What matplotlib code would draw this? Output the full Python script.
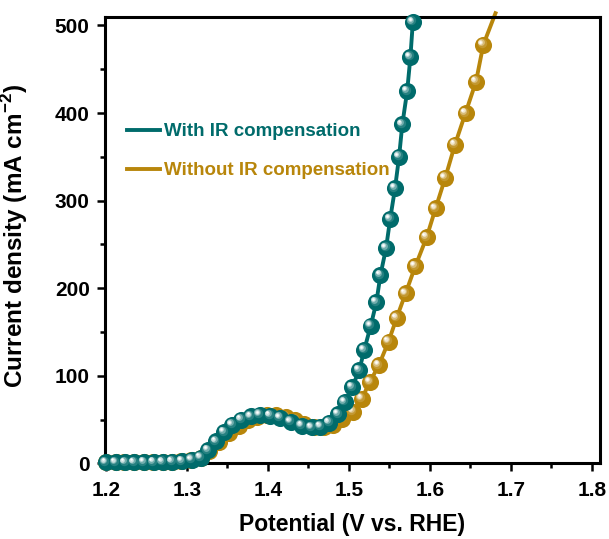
import matplotlib
matplotlib.use("Agg")
import matplotlib.pyplot as plt
import matplotlib.transforms as mtransforms
from matplotlib.ticker import MultipleLocator
from matplotlib.lines import Line2D

plt.rcParams['font.family'] = ['Liberation Sans', 'DejaVu Sans']
plt.rcParams['font.weight'] = 'bold'
plt.rcParams['mathtext.fontset'] = 'custom'
plt.rcParams['mathtext.rm'] = 'Liberation Sans:bold'
plt.rcParams['mathtext.bf'] = 'Liberation Sans:bold'

# ---- data ----
teal_x = [1.200, 1.212, 1.224, 1.235, 1.247, 1.259, 1.270, 1.282, 1.294, 1.306,
          1.317, 1.326, 1.336, 1.346, 1.356, 1.367, 1.379, 1.390, 1.403, 1.415,
          1.428, 1.442, 1.454, 1.465, 1.476, 1.487, 1.495, 1.504, 1.513, 1.519,
          1.527, 1.534, 1.539, 1.546, 1.551, 1.557, 1.562, 1.566, 1.572, 1.576,
          1.579]
teal_y = [1, 1, 1, 1, 1.2, 1.3, 1.5, 2, 2.5, 4,
          6.5, 15, 25, 35.5, 44, 50, 53.5, 55.5, 54.5, 52,
          47.5, 43, 41, 42, 46.5, 56, 70, 87, 106.5, 129.5,
          157, 184, 215, 246, 279, 314, 350, 387, 425, 464,
          504]

orange_x = [1.200, 1.212, 1.223, 1.235, 1.247, 1.258, 1.270, 1.282, 1.293, 1.305,
            1.317, 1.328, 1.340, 1.352, 1.364, 1.375, 1.387, 1.399, 1.410, 1.422,
            1.434, 1.445, 1.457, 1.469, 1.480, 1.492, 1.505, 1.516, 1.526, 1.537,
            1.549, 1.559, 1.570, 1.582, 1.596, 1.607, 1.619, 1.631, 1.644, 1.657,
            1.666, 1.681]
orange_y = [1, 1, 1, 1, 1.2, 1.3, 1.5, 2, 2.5, 4,
            6, 14, 24, 34.5, 43, 49, 52.5, 55, 55, 53,
            49.5, 45, 42, 41.5, 44, 51, 59, 74, 93, 112,
            139, 166, 194, 225, 258, 291, 326, 364, 400, 436,
            478, 514]

labels = ['With IR compensation', 'Without IR compensation']
teal = '#006b6b'
gold = '#b8860b'

x_ticks = [1.2, 1.3, 1.4, 1.5, 1.6, 1.7, 1.8]
y_ticks = [0, 100, 200, 300, 400, 500]

fig = plt.figure(figsize=(6.09, 5.39), dpi=100)
ax = fig.add_axes([0.1724, 0.1404, 0.8128, 0.8286])


def mix(c, w):
    r, g, b = matplotlib.colors.to_rgb(c)
    return (r + (1 - r) * w, g + (1 - g) * w, b + (1 - b) * w)


def ball_series(x, y, color, ms, zorder):
    ax.plot(x, y, '-', color=color, lw=2.8, zorder=zorder, clip_on=False)
    layers = [(1.0, 0.0, 0.0), (0.55, 0.15, 1.1), (0.4, 0.45, 1.7), (0.27, 0.8, 2.1), (0.14, 1.0, 2.3)]
    for scale, w, off in layers:
        tr = mtransforms.offset_copy(ax.transData, fig=fig, x=-off, y=off, units='points')
        ax.plot(x, y, 'o', ms=ms * scale, color=mix(color, w), mec='none',
                transform=tr, zorder=zorder + 0.1, clip_on=False)


ball_series(orange_x[:-1], orange_y[:-1], gold, 12.3, 3)
ax.plot(orange_x[-2:], orange_y[-2:], '-', color=gold, lw=2.8, zorder=3, clip_on=False)
ball_series(teal_x, teal_y, teal, 12.3, 5)

ax.set_xlim(1.199, 1.81)
ax.set_ylim(0, 510)
ax.set_xticks(x_ticks)
ax.set_xticklabels([f'{v:.1f}' for v in x_ticks])
ax.set_yticks(y_ticks)
ax.xaxis.set_minor_locator(MultipleLocator(0.05))
ax.yaxis.set_minor_locator(MultipleLocator(50))

for s in ax.spines.values():
    s.set_linewidth(2.2)
    s.set_zorder(4)
ax.tick_params(which='major', direction='out', length=6, width=1.8, labelsize=15, pad=5)
ax.tick_params(which='minor', direction='out', length=3.5, width=1.8)
ax.tick_params(axis='x', which='major', pad=7)
ax.tick_params(top=False, right=False)

ax.set_xlabel('Potential (V vs. RHE)', fontsize=16.5, fontweight='bold', labelpad=9)
ax.set_ylabel(r'Current density (mA cm$^{-2}$)', fontsize=17.5, fontweight='bold')
ax.yaxis.set_label_coords(-0.152, 0.508)

handles = [Line2D([], [], color=teal, lw=2.8), Line2D([], [], color=gold, lw=2.8)]
leg = ax.legend(handles, labels, loc='upper left', bbox_to_anchor=(0.044, 0.762),
                frameon=False, fontsize=13.5, handlelength=1.75, handletextpad=0.25,
                borderpad=0, borderaxespad=0, labelspacing=1.17)
for t, c in zip(leg.get_texts(), [teal, gold]):
    t.set_color(c)
    t.set_fontweight('bold')
leg.set_zorder(2)

fig.savefig('out.png', dpi=100)
